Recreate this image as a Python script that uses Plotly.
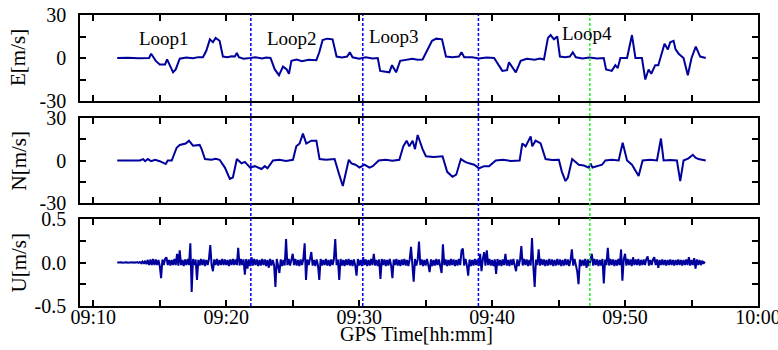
import plotly.graph_objects as go

# ---------------- data (time in minutes after 09:00) ----------------
E_t = [11.8, 12.6, 13.4, 14.2, 14.35, 14.5, 14.7, 15.0, 15.4, 15.55, 15.7, 16.0, 16.2, 16.5,
       17.0, 17.5, 17.9, 18.25, 18.5, 18.77, 19.0, 19.2, 19.5, 19.75, 20.1, 20.4, 20.65,
       20.8, 20.95, 21.3, 21.8, 22.2, 22.7, 23.0, 23.33, 23.65, 23.97, 24.27, 24.55, 24.72,
       24.9, 25.3, 25.7, 26.2, 26.78, 27.0, 27.25, 27.6, 28.0, 28.3, 28.7, 29.1, 29.3, 29.5,
       30.0, 30.5, 31.0, 31.4, 31.58, 32.27, 32.47, 32.78, 33.08, 33.5, 34.0, 34.4, 34.77,
       35.48, 35.8, 36.23, 36.53, 37.0, 37.5, 37.7, 37.9, 38.5, 39.0, 39.6, 40.15, 40.77,
       41.12, 41.27, 41.78, 42.15, 42.6, 43.2, 43.6, 43.9, 44.2, 44.4, 44.65, 44.9, 45.1,
       45.5, 45.85, 46.07, 46.3, 46.8, 47.3, 47.9, 48.4, 48.57, 49.0, 49.27, 49.45, 49.65,
       50.15, 50.52, 50.78, 51.27, 51.52, 51.77, 51.97, 52.27, 52.5, 52.97, 53.22, 53.4,
       53.65, 53.8, 54.03, 54.4, 54.72, 55.0, 55.32, 55.65, 56.07]
E_v = [0, 0.2, -0.2, 0, 3, 1, -2, -4.5, -4.5, -1, -4, -10, -8, -0.5,
       0.3, -0.2, 0.6, 0.5, 5, 13, 11, 14, 12, 1, 0.5, 1.2, 1,
       3.5, 0.5, -0.5, 0, 0.5, -0.3, 0.4, 0, -8, -12, -6, -8, -11,
       -2, -1.0, -2.2, -1.2, -1.5, 4, 12.5, 13.5, 13, 1, 0.4, 1, 4, 0.5,
       -0.5, 0.5, -0.4, 0, -9, -10, -5, -10, -2, -1.5, -0.5, -1.2, -1,
       12, 13.5, 13, 1, 0.5, 1, 4, 0.5, 0.5, -0.4, 0.3, 0, -9,
       -8.5, -3, -10, -2, -0.5, -1.2, -0.3, -1, 14, 16, 13, 15, 1,
       0.5, 1, 4, 0.5, -0.4, 0.4, -0.3, 0, -8, -9, -5, -7, 0,
       0, 16, 0, 0, -15, -8, -11, -5, -5, 10, 6, 11,
       12, 6, 3, 0, -12, 0, 8, 1, 0]

N_t = [11.8, 13.5, 13.75, 13.9, 14.1, 14.35, 14.65, 15.0, 15.45, 15.6, 15.9, 16.27, 16.5,
       16.95, 17.2, 17.5, 18.0, 18.15, 18.4, 18.9, 19.2, 19.5, 19.9, 20.27, 20.5, 20.8,
       21.15, 21.4, 21.8, 22.15, 22.65, 22.9, 23.1, 23.27, 23.52, 24.0, 24.5, 25.02, 25.27,
       25.52, 25.77, 26.02, 26.4, 26.78, 27.02, 27.5, 28.15, 28.5, 28.77, 29.22, 29.42,
       29.72, 30.03, 30.4, 30.77, 31.02, 31.47, 32.0, 32.5, 33.02, 33.32, 33.57, 33.77,
       34.02, 34.2, 34.4, 34.77, 35.02, 35.6, 36.27, 36.62, 37.02, 37.3, 37.65, 37.97,
       38.27, 38.65, 39.02, 39.4, 39.77, 40.27, 40.8, 41.4, 42.07, 42.27, 42.52, 42.9,
       43.02, 43.27, 43.65, 44.02, 44.5, 45.02, 45.25, 45.52, 45.7, 46.02, 46.52, 46.9,
       47.27, 47.4, 47.55, 47.85, 48.27, 48.52, 49.0, 49.52, 49.82, 50.15, 50.52, 51.02,
       51.32, 51.9, 52.4, 52.7, 52.9, 53.4, 53.9, 54.15, 54.4, 54.77, 55.1, 55.3, 55.52,
       56.07]
N_v = [0, 0, 1, -0.5, 1, -0.5, 0.5, -0.5, -2.5, 0, 0, 9, 11,
       12, 14, 10.5, 11, 8, 1, 0.6, 1.2, 0.5, -5, -13, -12, 1,
       -2, -1, -5, -4, -6, -4, -5.5, -3, 0, 0.5, -0.3, 0.5, 10,
       12, 19, 12, 14, 14, 1, 0.6, 1, -10, -18, 0.5, -2,
       -3, -5, -3, -5, -4, 0, 0.6, -0.2, 0.5, 10, 14, 10,
       14, 8, 18, 8, 3, 2.5, 3, -8, -11.5, -10, 1, -1,
       -2, -3, -5.5, -4, -4, 0, 0.5, -0.3, 0, 12, 10, 17,
       10, 14, 12, 1, 0.3, 0.5, -8, -14.5, -12, 1, -3, -3.5,
       -5, -2, -5, -4, -3, 0, 0.5, 0, 12.5, 0, -3, -11,
       0, 0.5, 0, 15.5, 0, 0.4, 0, -14.5, 0, 1.5, 4, 2, 1,
       0]

U_start = 11.8   # first sample, minutes after 09:00
U_step = 0.1     # sampling interval, minutes
U_v = [
    0, 0.002, -0.002, 0.002, -0.002, 0.002, -0.002, 0.002, -0.002, 0.002,
    -0.002, 0.003, -0.003, 0.003, -0.003, 0.004, -0.004, 0.006, -0.008, 0.012,
    -0.015, 0.02, -0.02, 0.03, -0.03, 0.035, -0.03, 0.04, -0.03, 0.035,
    -0.03, 0.03, -0.04, -0.18, 0.035, -0.03, 0.04, 0.06, -0.03, 0.03,
    -0.035, 0.03, -0.03, 0.04, -0.03, 0.1, -0.035, 0.14, -0.03, 0.03,
    -0.04, 0.035, -0.03, 0.04, -0.03, 0.22, -0.34, 0.04, -0.03, 0.035,
    -0.2, 0.03, -0.035, 0.04, -0.03, 0.035, -0.04, 0.03, -0.03, 0.04,
    0.2, -0.03, -0.1, 0.035, -0.03, 0.04, -0.035, 0.03, -0.03, 0.04,
    -0.03, 0.035, -0.03, 0.03, -0.04, 0.035, -0.03, 0.04, -0.03, 0.035,
    -0.03, 0.17, -0.035, 0.04, -0.03, 0.035, -0.14, 0.04, -0.07, 0.035,
    -0.04, 0.06, -0.035, 0.04, -0.03, 0.035, -0.04, 0.03, -0.035, 0.04,
    -0.03, 0.035, -0.04, 0.03, -0.06, 0.04, -0.035, 0.03, -0.03, -0.28,
    0.04, -0.03, -0.12, 0.035, -0.04, 0.03, -0.035, 0.27, -0.03, 0.04,
    -0.035, 0.03, 0.1, -0.03, 0.04, -0.035, 0.03, -0.04, 0.035, -0.03,
    0.04, 0.22, -0.2, 0.035, -0.03, 0.04, 0.12, -0.035, 0.03, -0.04,
    0.035, -0.03, -0.2, 0.04, -0.035, 0.03, -0.03, 0.04, -0.035, 0.03,
    -0.04, 0.035, -0.03, 0.04, 0.27, -0.03, 0.035, -0.2, 0.04, -0.035,
    0.03, -0.04, 0.035, -0.03, 0.04, -0.035, 0.03, -0.04, 0.035, -0.03,
    -0.15, 0.04, -0.035, 0.03, -0.04, 0.06, -0.03, 0.035, -0.04, 0.03,
    -0.035, 0.04, -0.03, 0.1, -0.035, 0.03, -0.04, 0.035, -0.19, 0.04,
    -0.03, 0.035, -0.04, 0.03, -0.035, 0.04, -0.03, -0.18, 0.035, -0.03,
    0.04, -0.035, 0.03, -0.04, 0.035, -0.03, 0.04, -0.035, 0.03, -0.04,
    0.035, 0.18, -0.03, -0.22, 0.04, -0.035, 0.03, 0.24, -0.03, 0.035,
    -0.04, 0.03, -0.035, 0.04, -0.03, -0.11, 0.035, -0.04, 0.03, -0.035,
    0.04, -0.03, 0.035, -0.04, -0.12, 0.21, -0.03, 0.035, -0.04, 0.03,
    -0.035, 0.04, -0.03, 0.035, -0.04, 0.03, -0.035, 0.04, -0.03, 0.14,
    0.16, -0.035, 0.04, -0.03, -0.15, 0.035, -0.04, 0.03, -0.035, 0.04,
    -0.03, 0.035, -0.04, 0.1, -0.1, 0.035, 0.12, -0.035, 0.14, -0.03,
    0.04, -0.035, 0.03, -0.04, 0.035, -0.13, 0.04, -0.035, 0.03, -0.04,
    0.035, -0.03, 0.1, -0.035, 0.03, -0.04, 0.035, -0.03, 0.04, -0.035,
    -0.1, 0.035, -0.04, 0.03, 0.19, -0.035, 0.04, -0.03, 0.035, -0.04,
    0.03, -0.035, 0.28, -0.04, -0.28, 0.035, -0.03, 0.15, -0.035, 0.04,
    -0.03, 0.035, -0.04, 0.03, -0.035, 0.04, -0.03, 0.035, -0.04, 0.03,
    -0.035, 0.04, -0.03, 0.035, -0.04, 0.03, -0.035, 0.04, -0.03, 0.035,
    -0.04, 0.03, 0.15, -0.035, 0.04, -0.03, -0.1, -0.25, 0.035, -0.04,
    0.03, -0.035, 0.04, -0.06, 0.035, -0.04, 0.03, 0.1, -0.035, 0.04,
    -0.03, 0.035, -0.04, 0.03, -0.035, 0.04, -0.24, 0.035, -0.03, 0.17,
    -0.035, 0.04, -0.03, 0.035, -0.04, 0.03, -0.035, 0.04, -0.03, 0.15,
    -0.21, 0.035, 0.1, -0.035, 0.04, -0.03, 0.035, -0.04, 0.06, -0.03,
    0.035, -0.03, 0.04, -0.035, 0.03, -0.03, 0.035, -0.03, 0.04, 0.07,
    -0.035, 0.03, -0.03, 0.035, 0.06, -0.03, 0.035, -0.06, 0.03, -0.03,
    0.035, -0.03, 0.03, -0.035, 0.03, -0.03, 0.035, -0.03, 0.03, -0.035,
    0.03, -0.03, 0.035, -0.03, 0.03, -0.035, 0.03, -0.03, 0.035, -0.03,
    0.06, -0.035, 0.03, -0.03, 0.05, -0.07, 0.035, -0.03, 0.03, -0.03,
    0.02, -0.015, 0.01]
U_t = [U_start + U_step * i for i in range(len(U_v))]

loop_lines_blue = [21.85, 30.27, 38.97]
loop_line_green = [47.35]
loop_names = ["Loop1", "Loop2", "Loop3", "Loop4"]
loop_label_x = [15.33, 24.96, 32.6, 47.12]
loop_label_y = [13.8, 13.8, 15.2, 17.3]

x_tickvals = [10, 15, 20, 25, 30, 35, 40, 45, 50, 55, 60]
x_ticktext = ["09:10", "", "09:20", "", "09:30", "", "09:40", "", "09:50", "", "10:00"]
ev_tickvals = [-30, -15, 0, 15, 30]
ev_ticktext = ["-30", "", "0", "", "30"]
u_tickvals = [-0.5, -0.25, 0, 0.25, 0.5]
u_ticktext = ["-0.5", "", "0.0", "", "0.5"]
y_titles = ["E[m/s]", "N[m/s]", "U[m/s]"]
x_title = "GPS Time[hh:mm]"

# ---------------- figure ----------------
FONT = "Liberation Serif, Times New Roman, serif"
LINE = "#00009c"
W, H = 778, 350
ML, MR, MT, MB = 80, 20, 15, 44
PW, PH = W - ML - MR, H - MT - MB

fig = go.Figure()
fig.add_trace(go.Scatter(x=E_t, y=E_v, mode="lines", line=dict(color=LINE, width=2),
                         xaxis="x", yaxis="y", showlegend=False))
fig.add_trace(go.Scatter(x=N_t, y=N_v, mode="lines", line=dict(color=LINE, width=2),
                         xaxis="x2", yaxis="y2", showlegend=False))
fig.add_trace(go.Scatter(x=U_t, y=U_v, mode="lines", line=dict(color=LINE, width=2),
                         xaxis="x3", yaxis="y3", showlegend=False))

common_x = dict(range=[9, 60], tickvals=x_tickvals, ticktext=x_ticktext, ticks="inside",
                ticklen=6, tickwidth=1.5, tickcolor="black", showline=True, linecolor="black",
                linewidth=1.5, mirror="ticks", showgrid=False, zeroline=False, automargin=False,
                ticklabeloverflow="allow", ticklabelstandoff=-8,
                tickfont=dict(family=FONT, size=20, color="black"))
common_y = dict(ticks="inside", ticklen=6, tickwidth=1.5, tickcolor="black", showline=True,
                linecolor="black", linewidth=1.5, mirror="ticks", showgrid=False,
                zeroline=False, automargin=False, ticklabelstandoff=8,
                tickfont=dict(family=FONT, size=20, color="black"))


def py(pix):
    """pixel row -> paper fraction"""
    return (H - MB - pix) / PH


fig.update_layout(
    width=W, height=H,
    margin=dict(l=ML, r=MR, t=MT, b=MB, autoexpand=False),
    paper_bgcolor="white", plot_bgcolor="white",
    font=dict(family=FONT, color="black"),
    xaxis=dict(common_x, domain=[0, 1], anchor="y", showticklabels=False),
    xaxis2=dict(common_x, domain=[0, 1], anchor="y2", showticklabels=False),
    xaxis3=dict(common_x, domain=[0, 1], anchor="y3", showticklabels=True),
    yaxis=dict(common_y, domain=[py(101), py(15)], range=[-30, 30], tickvals=ev_tickvals,
               ticktext=ev_ticktext),
    yaxis2=dict(common_y, domain=[py(203), py(118)], range=[-30, 30], tickvals=ev_tickvals,
                ticktext=ev_ticktext),
    yaxis3=dict(common_y, domain=[py(306), py(219)], range=[-0.5, 0.5], tickvals=u_tickvals,
                ticktext=u_ticktext),
)

for xv in loop_lines_blue:
    fig.add_shape(type="line", xref="x", yref="paper", x0=xv, x1=xv, y0=0, y1=1,
                  line=dict(color="#0000ff", width=1.5, dash="3px,2px"))
for xv in loop_line_green:
    fig.add_shape(type="line", xref="x", yref="paper", x0=xv, x1=xv, y0=0, y1=1,
                  line=dict(color="#22ee22", width=1.5, dash="3px,2px"))

for name, lx, ly in zip(loop_names, loop_label_x, loop_label_y):
    fig.add_annotation(x=lx, y=ly, xref="x", yref="y", text=name, showarrow=False,
                       xanchor="center", yanchor="middle",
                       font=dict(family=FONT, size=19, color="black"))

# axis titles
for txt, cy in zip(y_titles, [58, 160.5, 262.5]):
    fig.add_annotation(x=(18 - ML) / PW, y=py(cy), xref="paper", yref="paper", text=txt,
                       showarrow=False, textangle=-90, xanchor="center", yanchor="middle",
                       font=dict(family=FONT, size=21, color="black"))
fig.add_annotation(x=(416.7 - ML) / PW, y=py(334), xref="paper", yref="paper", text=x_title,
                   showarrow=False, xanchor="center", yanchor="middle",
                   font=dict(family=FONT, size=20, color="black"))

fig.write_html("out.html")
